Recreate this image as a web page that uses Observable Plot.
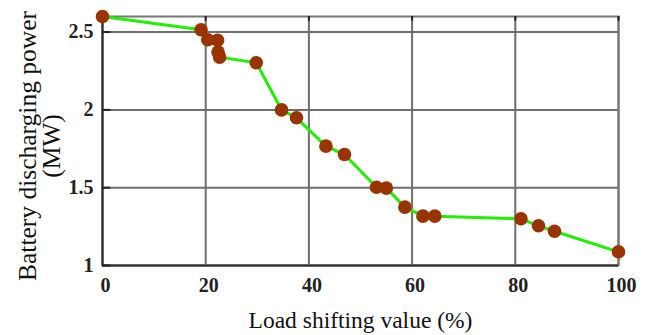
<!DOCTYPE html>
<html>
<head>
<meta charset="utf-8">
<script src="https://cdn.jsdelivr.net/npm/d3@7"></script>
<script src="https://cdn.jsdelivr.net/npm/@observablehq/plot@0.6"></script>
<style>
  html, body { margin: 0; padding: 0; background: #fff; }
  #chart { width: 656px; height: 335px; }
</style>
</head>
<body>
<div id="chart"></div>
<script>
const loadShift = [0, 19.1, 20.4, 22.3, 22.4, 22.7, 29.8, 34.7, 37.6, 43.3, 46.9, 53.1, 55.0, 58.6, 62.1, 64.4, 81.1, 84.5, 87.6, 100];
const power = [2.6, 2.515, 2.451, 2.447, 2.371, 2.339, 2.303, 2.0, 1.949, 1.767, 1.713, 1.503, 1.497, 1.375, 1.317, 1.317, 1.30, 1.255, 1.22, 1.088];
const xTicks = [0, 20, 40, 60, 80, 100];
const yTicks = [1, 1.5, 2, 2.5];
const yTickLabels = ["1", "1.5", "2", "2.5"];
const xTitle = "Load shifting value (%)";
const yTitleLines = ["Battery discharging power", "(MW)"];

const data = loadShift.map((x, i) => ({x, y: power[i]}));
const serif = "'Liberation Serif', 'Times New Roman', serif";

const chart = Plot.plot({
  width: 656,
  height: 335,
  marginLeft: 102,
  marginRight: 38,
  marginTop: 16,
  marginBottom: 70,
  style: {fontFamily: serif, background: "#fff", overflow: "visible"},
  x: {type: "linear", domain: [0, 100], axis: null},
  y: {type: "linear", domain: [1, 2.6], axis: null},
  marks: [
    Plot.ruleX(xTicks, {x: d => d, stroke: "#6e6e6e", strokeWidth: 2}),
    Plot.ruleY(yTicks, {y: d => d, stroke: "#6e6e6e", strokeWidth: 2}),
    Plot.frame({stroke: "#777", strokeWidth: 2}),
    Plot.ruleX([0], {x: d => d, stroke: "#333", strokeWidth: 2}),
    Plot.ruleY([1], {y: d => d, stroke: "#333", strokeWidth: 2}),
    Plot.ruleX(xTicks, {x: d => d, y1: () => 2.6, y2: () => 2.57, stroke: "#222", strokeWidth: 2}),
    Plot.ruleY(yTicks, {y: d => d, x1: () => 0, x2: () => 1.6, stroke: "#222", strokeWidth: 2}),
    Plot.text(xTicks, {x: d => d, text: d => String(d), frameAnchor: "bottom", dx: 3, dy: 20, lineAnchor: "middle", fontSize: 20, fontWeight: "bold", fill: "#222"}),
    Plot.text(yTicks, {y: d => d, text: (d, i) => yTickLabels[i], frameAnchor: "left", textAnchor: "end", dx: -9, lineAnchor: "middle", fontSize: 20, fontWeight: "bold", fill: "#222"}),
    Plot.text([xTitle], {text: d => d, frameAnchor: "bottom", textAnchor: "middle", dy: 62, fontSize: 23.5, fill: "#111", lineAnchor: "bottom"}),
    Plot.text([yTitleLines.join("\n")], {text: d => d, frameAnchor: "left", textAnchor: "middle", lineAnchor: "middle", lineHeight: 0.95, dx: -62, dy: 5, rotate: -90, fontSize: 25.5, fill: "#111"}),
    Plot.line(data, {x: "x", y: "y", stroke: "#22ee00", strokeWidth: 3}),
    Plot.dot(data, {x: "x", y: "y", r: 6.8, fill: "#993300", stroke: "none"})
  ]
});
document.getElementById("chart").appendChild(chart);
</script>
</body>
</html>
